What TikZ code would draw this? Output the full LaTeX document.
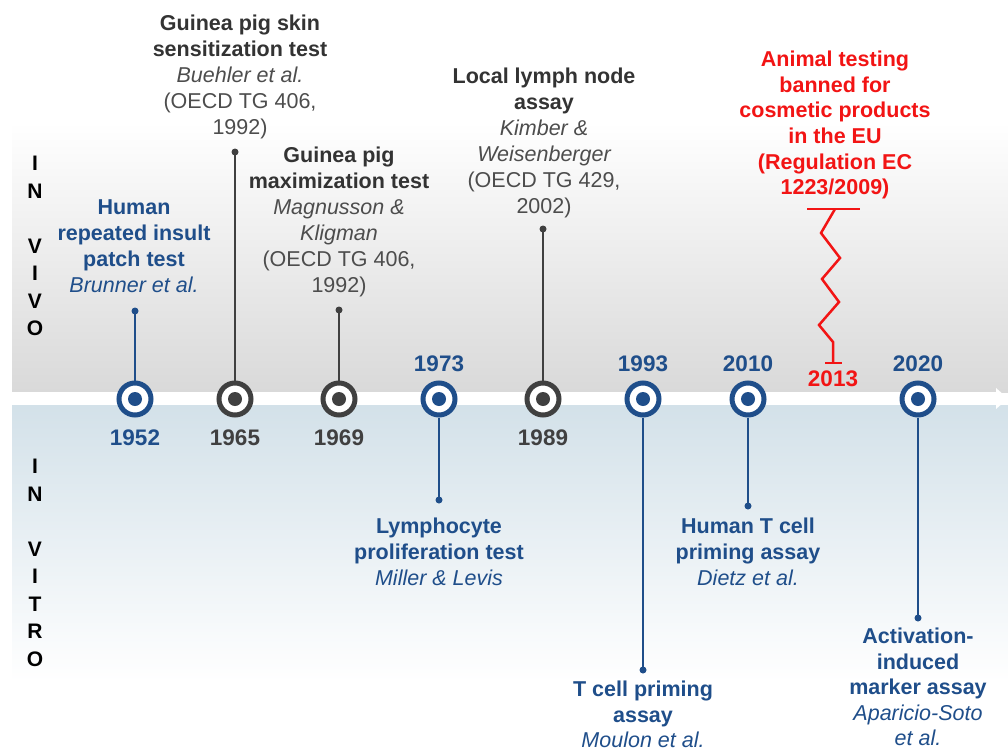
\documentclass[tikz,border=0pt]{standalone}
\usepackage{fontspec}
\setmainfont{Liberation Sans}
\definecolor{tblue}{HTML}{1F4E8A}
\definecolor{tdark}{HTML}{404040}
\definecolor{ttext}{HTML}{333333}
\definecolor{titl}{HTML}{4D4D4D}
\definecolor{tred}{HTML}{F21414}
\definecolor{topgray}{HTML}{D9D9D9}
\definecolor{botblue}{HTML}{D3E1E9}
\begin{document}
\begin{tikzpicture}[x=1pt,y=-1pt,
  mk/.style={circle,draw=#1,line width=5pt,minimum size=32pt,inner sep=0pt,fill=white,
    path picture={\fill[#1] (path picture bounding box.center) circle (7);}},
  stem/.style={draw=#1,line width=2.5pt},
  lbl/.style={align=center,inner sep=0pt,anchor=north,font=\fontsize{21.5}{26}\selectfont},
  yr/.style={inner sep=0pt,anchor=base,font=\fontsize{22.5}{24}\selectfont\bfseries},
  side/.style={align=center,inner sep=0pt,anchor=north,font=\fontsize{21}{27.5}\selectfont\bfseries},
]
\useasboundingbox (0,0) rectangle (1008,752);
% backgrounds
\shade[top color=white,bottom color=topgray] (12,122) rectangle (1008,392);
\shade[top color=botblue,bottom color=white] (12,405) rectangle (1008,682);
\fill[white] (12,392) rectangle (1000,405);
\fill[white] (996,388) -- (1008,398.5) -- (996,409) -- cycle;

% side labels
\node[side] (invivo) at (35,156) {I\\N\\[27.5pt]V\\I\\V\\O};
\node[side] (invitro) at (35,459) {I\\N\\[27.5pt]V\\I\\T\\R\\O};

% markers
\node[mk=tblue] (m1952) at (135,399) {};
\node[mk=tdark] (m1965) at (235,399) {};
\node[mk=tdark] (m1969) at (339,399) {};
\node[mk=tblue] (m1973) at (439,399) {};
\node[mk=tdark] (m1989) at (543,399) {};
\node[mk=tblue] (m1993) at (643,399) {};
\node[mk=tblue] (m2010) at (748,399) {};
\node[mk=tblue] (m2020) at (918,399) {};

% stem ends
\coordinate (d1952) at (135,311);
\coordinate (d1965) at (235,152);
\coordinate (d1969) at (339,310);
\coordinate (d1989) at (543,229);
\coordinate (d1973) at (439,500);
\coordinate (d1993) at (643,670);
\coordinate (d2010) at (748,506);
\coordinate (d2020) at (918,618);

\draw[stem=tblue] (m1952.north) -- (d1952); \fill[tblue] (d1952) circle (3.5);
\draw[stem=tdark] (m1965.north) -- (d1965); \fill[tdark] (d1965) circle (3.5);
\draw[stem=tdark] (m1969.north) -- (d1969); \fill[tdark] (d1969) circle (3.5);
\draw[stem=tdark] (m1989.north) -- (d1989); \fill[tdark] (d1989) circle (3.5);
\draw[stem=tblue] (m1973.south) -- (d1973); \fill[tblue] (d1973) circle (3.5);
\draw[stem=tblue] (m1993.south) -- (d1993); \fill[tblue] (d1993) circle (3.5);
\draw[stem=tblue] (m2010.south) -- (d2010); \fill[tblue] (d2010) circle (3.5);
\draw[stem=tblue] (m2020.south) -- (d2020); \fill[tblue] (d2020) circle (3.5);

% years
\node[yr,text=tblue] (y1952) at (135,445) {1952};
\node[yr,text=tdark] (y1965) at (235,445) {1965};
\node[yr,text=tdark] (y1969) at (339,445) {1969};
\node[yr,text=tdark] (y1989) at (543,445) {1989};
\node[yr,text=tblue] (y1973) at (439,371) {1973};
\node[yr,text=tblue] (y1993) at (643,371) {1993};
\node[yr,text=tblue] (y2010) at (748,371) {2010};
\node[yr,text=tblue] (y2020) at (918,371) {2020};
\node[yr,text=tred] (y2013) at (833,386) {2013};

% red zigzag
\coordinate (zt) at (835,209);
\coordinate (zb) at (833,363);
\draw[tred,line width=2.5pt] (807,209) -- (860,209);
\draw[tred,line width=2.5pt,line join=miter] (zt) -- (821,233) -- (840,258) -- (822,279) -- (839,302) -- (819,325) -- (833,342) -- (zb);
\draw[tred,line width=2.5pt] (825,363) -- (842,363);

% texts
\node[lbl,text=tblue] (t1952) at (134,200)
 {\bfseries Human\\\bfseries repeated insult\\\bfseries patch test\\\itshape Brunner et al.};
\node[lbl,text=ttext] (t1965) at (240,15)
 {\bfseries Guinea pig skin\\\bfseries sensitization test\\\color{titl}\itshape Buehler et al.\\\color{titl}(OECD TG 406,\\\color{titl}1992)};
\node[lbl,text=ttext] (t1969) at (339,147)
 {\bfseries Guinea pig\\\bfseries maximization test\\\color{titl}\itshape Magnusson \&\\\color{titl}\itshape Kligman\\\color{titl}(OECD TG 406,\\\color{titl}1992)};
\node[lbl,text=ttext] (t1989) at (544,68)
 {\bfseries Local lymph node\\\bfseries assay\\\color{titl}\itshape Kimber \&\\\color{titl}\itshape Weisenberger\\\color{titl}(OECD TG 429,\\\color{titl}2002)};
\node[lbl,text=tred,font=\fontsize{21.5}{25.6}\selectfont\bfseries] (tban) at (835,51)
 {Animal testing\\banned for\\cosmetic products\\in the EU\\(Regulation EC\\1223/2009)};
\node[lbl,text=tblue] (t1973) at (439,518)
 {\bfseries Lymphocyte\\\bfseries proliferation test\\\itshape Miller \& Levis};
\node[lbl,text=tblue,font=\fontsize{21.5}{25.5}\selectfont] (t1993) at (643,681)
 {\bfseries T cell priming\\\bfseries assay\\\itshape Moulon et al.};
\node[lbl,text=tblue] (t2010) at (748,518)
 {\bfseries Human T cell\\\bfseries priming assay\\\itshape Dietz et al.};
\node[lbl,text=tblue,font=\fontsize{21.5}{25.5}\selectfont] (t2020) at (918,628)
 {\bfseries Activation-\\\bfseries induced\\\bfseries marker assay\\\itshape Aparicio-Soto\\\itshape et al.};
\end{tikzpicture}
\end{document}
